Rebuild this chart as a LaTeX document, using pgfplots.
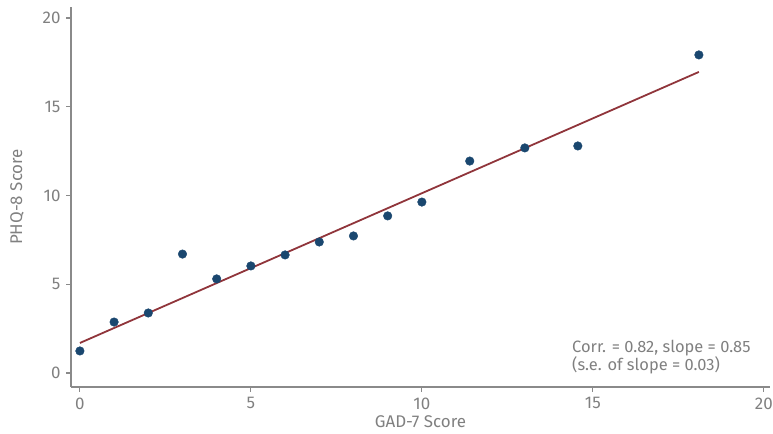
\documentclass[border=0pt]{standalone}
\usepackage{pgfplots}
\pgfplotsset{compat=1.18}
\usepackage{fontspec}
\setmainfont{Fira Sans}
\definecolor{txtgrey}{HTML}{808080}
\definecolor{axgrey}{HTML}{8A8A8A}
\definecolor{ptblue}{HTML}{1A476F}
\definecolor{lnred}{HTML}{90353B}
\begin{document}
\begin{tikzpicture}[x=1bp,y=1bp]
\path[use as bounding box] (0,0) rectangle (773,434);
\begin{axis}[
  at={(71bp,47bp)}, anchor=south west,
  scale only axis, width=699bp, height=380bp,
  xmin=-0.26, xmax=20.18, ymin=-0.79, ymax=20.62,
  axis x line*=bottom, axis y line*=left,
  axis line style={axgrey, line width=1.3bp, -},
  xtick={0,5,...,20}, ytick={0,5,...,20},
  tick style={axgrey, line width=1.1bp},
  tick align=outside, major tick length=5bp,
  tick label style={font=\fontsize{17}{19}\selectfont, text=txtgrey},
  /pgf/number format/assume math mode=true,
  xticklabel style={yshift=-2bp},
  yticklabel style={xshift=-2bp},
  xlabel={GAD-7 Score}, ylabel={PHQ-8 Score},
  label style={font=\fontsize{17}{19}\selectfont, text=txtgrey},
  xlabel style={yshift=0bp},
  ylabel style={yshift=12bp},
  clip=false,
]
\addplot[lnred, line width=1.8bp] coordinates {(0,1.69) (18.1,16.96)};
\addplot[only marks, mark=*, mark size=4.3bp, mark options={fill=ptblue, draw=ptblue}] coordinates {
(0,1.24) (1,2.87) (2,3.38) (3,6.70) (4,5.30) (5,6.03) (6,6.65) (7,7.38) (8,7.72) (9,8.85) (10,9.63) (11.40,11.94) (13.01,12.68) (14.56,12.79) (18.10,17.92)
};
\node[anchor=west, align=left, text=txtgrey, font=\fontsize{16.5}{17}\selectfont, inner sep=0pt] at (axis cs:14.39,0.9) {Corr. = 0.82, slope = 0.85\\(s.e. of slope = 0.03)};
\end{axis}
\end{tikzpicture}
\end{document}
